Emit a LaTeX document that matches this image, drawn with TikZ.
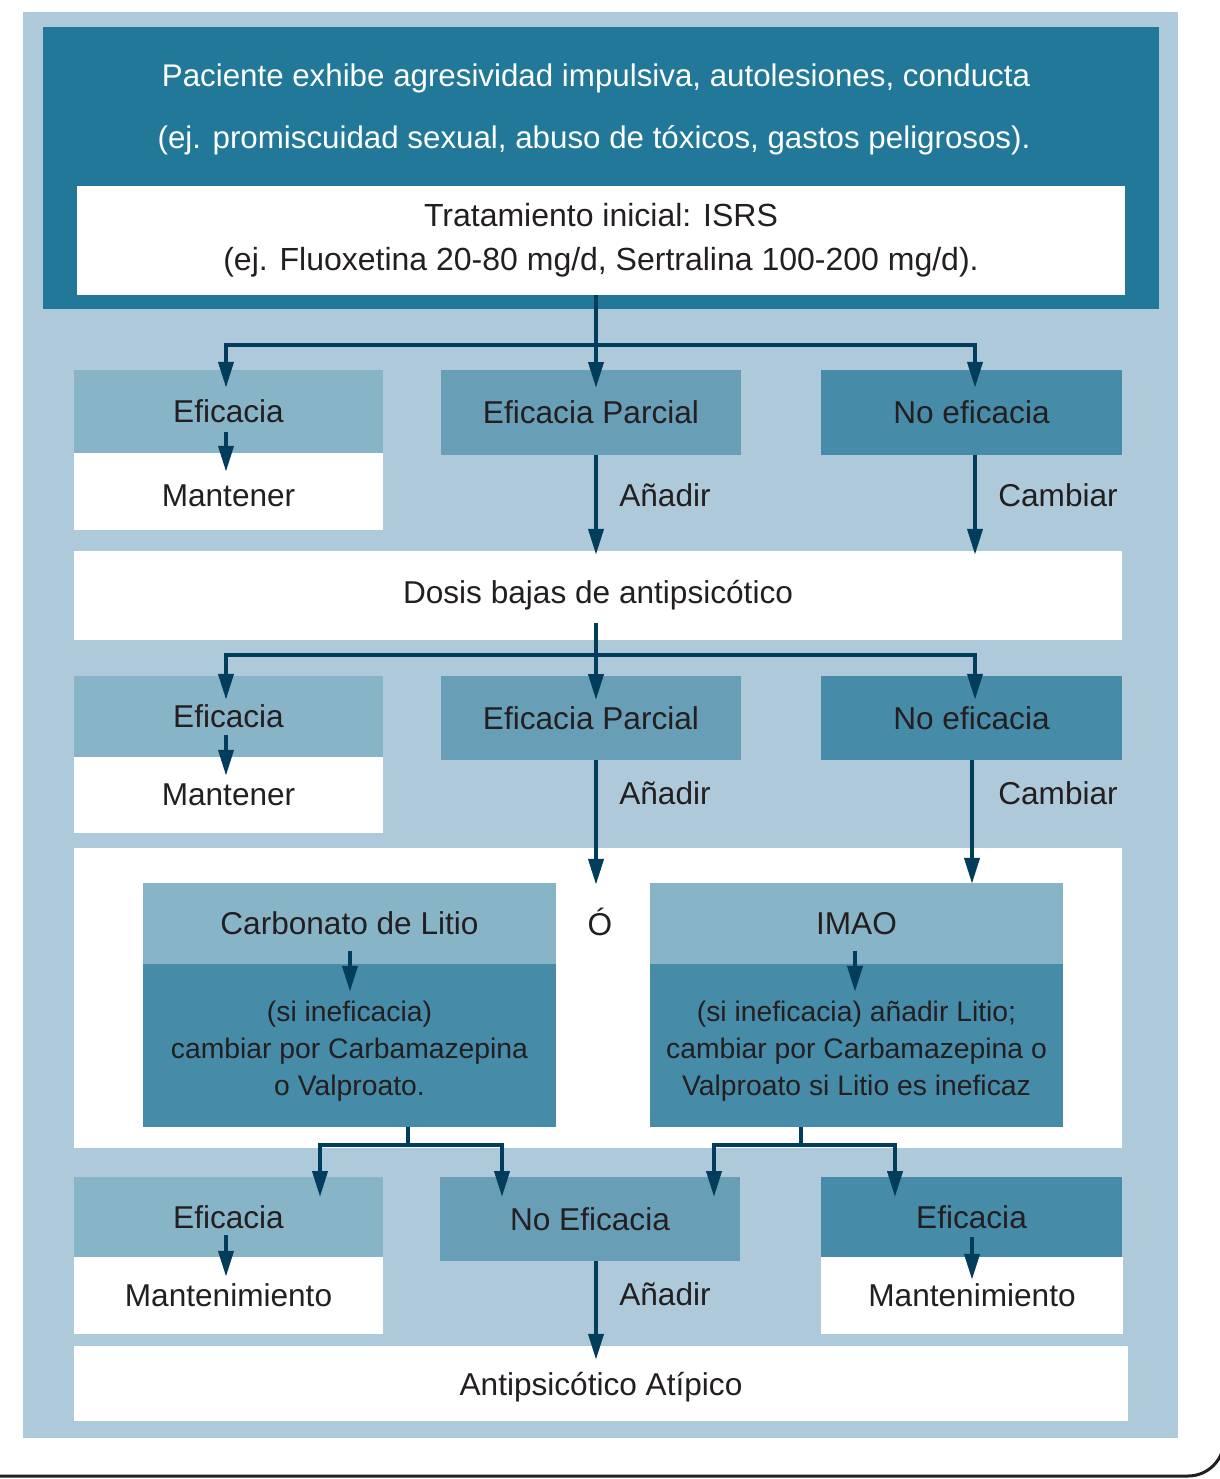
\documentclass[tikz,border=0pt]{standalone}
\usepackage{fontspec}
\setmainfont{Liberation Sans}
\usetikzlibrary{arrows.meta,calc}

\definecolor{panel}{HTML}{ADC9DA}
\definecolor{headbg}{HTML}{217898}
\definecolor{lightbox}{HTML}{88B4C8}
\definecolor{midbox}{HTML}{689EB6}
\definecolor{darkbox}{HTML}{468BA8}
\definecolor{wire}{HTML}{023E5C}
\definecolor{ink}{HTML}{231F20}

\begin{document}
\begin{tikzpicture}[x=1pt,y=-1pt,
  box/.style={rectangle, draw=none, inner sep=0pt, text=ink, align=center,
    font=\fontsize{31.6}{38}\selectfont},
  small/.style={font=\fontsize{28.3}{37}\selectfont},
  lower/.style={text height=#1, text depth=0pt},
  inside/.style={label={[small, text=ink, align=center, yshift=-6pt]center:#1}},
  arr/.style={draw=wire, line width=4pt, -{Triangle[width=15pt,length=26pt]}},
  wirel/.style={draw=wire, line width=4pt},
  lbl/.style={text=ink, font=\fontsize{31.6}{38}\selectfont}]
\useasboundingbox (0,0) rectangle (1219,1479);

% background panel
\fill[panel] (23,12) rectangle (1178,1438);

% header block
\node[box, fill=headbg, minimum width=1116, minimum height=282] (head) at (601,168) {};
\node[text=white, font=\fontsize{31.3}{38}\selectfont] (headA) at (596,78)
  {Paciente exhibe agresividad impulsiva, autolesiones, conducta};
\node[text=white, font=\fontsize{31.3}{38}\selectfont] (headB) at (594,140)
  {(ej. promiscuidad sexual, abuso de tóxicos, gastos peligrosos).};
\node[box, fill=white, minimum width=1048, minimum height=109,
  font=\fontsize{32}{44}\selectfont] (isrs) at (601,240.5)
  {Tratamiento inicial: ISRS\\(ej. Fluoxetina 20-80 mg/d, Sertralina 100-200 mg/d).};

% first response row
\node[box, fill=lightbox, minimum width=309, minimum height=83] (ef1) at (228.5,411.5) {Eficacia};
\node[box, lower=30.6pt, fill=white, minimum width=309, minimum height=77] (man1) at (228.5,491.5) {Mantener};
\node[box, fill=midbox, minimum width=300, minimum height=85] (ep1) at (591,412.5) {Eficacia Parcial};
\node[box, fill=darkbox, minimum width=301, minimum height=85] (ne1) at (971.5,412.5) {No eficacia};
\node[box, fill=white, minimum width=1048, minimum height=89] (dosis) at (598,595.5) {Dosis bajas de antipsicótico};

% second response row
\node[box, fill=lightbox, minimum width=309, minimum height=81] (ef2) at (228.5,716.5) {Eficacia};
\node[box, fill=white, minimum width=309, minimum height=76] (man2) at (228.5,795) {Mantener};
\node[box, fill=midbox, minimum width=300, minimum height=84] (ep2) at (591,718) {Eficacia Parcial};
\node[box, fill=darkbox, minimum width=301, minimum height=84] (ne2) at (971.5,718) {No eficacia};

% lithium / MAOI block
\node[box, fill=white, minimum width=1048, minimum height=300] (alt) at (598,998) {};
\node[box, fill=lightbox, minimum width=413, minimum height=81] (lit) at (349.5,923.5) {Carbonato de Litio};
\node[box, fill=darkbox, minimum width=413, minimum height=163,
  inside={(si ineficacia)\\cambiar por Carbamazepina\\o Valproato.}] (litB) at (349.5,1045.5) {};
\node[box, fill=lightbox, minimum width=413, minimum height=81] (imao) at (856.5,923.5) {IMAO};
\node[box, fill=darkbox, minimum width=413, minimum height=163,
  inside={(si ineficacia) añadir Litio;\\cambiar por Carbamazepina o\\Valproato si Litio es ineficaz}] (imaoB) at (856.5,1045.5) {};
\node[lbl] (o) at (600,922) {Ó};

% third response row
\node[box, fill=lightbox, minimum width=309, minimum height=80] (ef3) at (228.5,1217) {Eficacia};
\node[box, fill=white, minimum width=309, minimum height=77] (mt3) at (228.5,1295.5) {Mantenimiento};
\node[box, fill=midbox, minimum width=300, minimum height=84] (nef3) at (590,1219) {No Eficacia};
\node[box, fill=darkbox, minimum width=301, minimum height=80] (ef4) at (971.5,1217) {Eficacia};
\node[box, fill=white, minimum width=302, minimum height=77] (mt4) at (972,1295.5) {Mantenimiento};
\node[box, lower=24pt, fill=white, minimum width=1054, minimum height=75] (atip) at (601,1383.5) {Antipsicótico Atípico};

% connector labels
\node[lbl] (add1) at (665,495) {Añadir};
\node[lbl] (chg1) at (1058,495) {Cambiar};
\node[lbl] (add2) at (665,793) {Añadir};
\node[lbl] (chg2) at (1058,793) {Cambiar};
\node[lbl] (add3) at (665,1294) {Añadir};

% junction points
\coordinate (j1) at (596,345);
\coordinate (j2) at (596,655);
\coordinate (j3) at (408,1145);
\coordinate (j4) at (801,1145);

% from initial treatment
\draw[wirel] (isrs.south -| j1) -- (j1);
\draw[arr] (j1) -- (596,388);
\draw[arr] (j1) -| ($(ef1.north)+(-2.5,18)$);
\draw[arr] (j1) -| ($(ne1.north)+(3.5,18)$);
\draw[arr] ($(ef1.center)+(-2.5,20)$) -- ($(man1.north)+(-2.5,19)$);
\draw[arr] (ep1.south -| j1) -- ($(dosis.north -| j1)+(0,4)$);
\draw[arr] ($(ne1.south)+(3.5,0)$) -- ($(dosis.north -| ne1.south)+(3.5,4)$);

% from low-dose antipsychotic
\draw[wirel] ($(dosis.south -| j2)+(0,-17)$) -- (j2);
\draw[arr] (j2) -- (596,700);
\draw[arr] (j2) -| ($(ef2.north)+(-2.5,24)$);
\draw[arr] (j2) -| ($(ne2.north)+(3.5,24)$);
\draw[arr] ($(ef2.center)+(-2.5,18)$) -- ($(man2.north)+(-2.5,19)$);
\draw[arr] (ep2.south -| j2) -- ($(lit.north -| j2)+(0,2)$);
\draw[arr] ($(ne2.south)+(0.5,0)$) -- ($(imao.north -| ne2.south)+(0.5,1)$);

% inside the lithium / MAOI boxes
\draw[arr] ($(lit.center)+(0.5,27)$) -- ($(litB.north)+(0.5,28)$);
\draw[arr] ($(imao.center)+(-1.5,27)$) -- ($(imaoB.north)+(-1.5,28)$);

% outcomes
\draw[wirel] (litB.south -| j3) -- (j3);
\draw[arr] (j3) -| (320,1197);
\draw[arr] (j3) -| (502,1197);
\draw[wirel] (imaoB.south -| j4) -- (j4);
\draw[arr] (j4) -| (714,1197);
\draw[arr] (j4) -| (895,1197);
\draw[arr] ($(ef3.center)+(-2.5,18)$) -- ($(mt3.north)+(-2.5,20)$);
\draw[arr] ($(ef4.center)+(0.5,20)$) -- ($(mt4.north)+(0,23)$);
\draw[arr] (nef3.south -| j1) -- ($(atip.north -| j1)+(0,14)$);

% page frame corner
\draw[ink, line width=3pt, rounded corners=36pt] (-5,1476) -| (1224,1380);
\end{tikzpicture}
\end{document}
